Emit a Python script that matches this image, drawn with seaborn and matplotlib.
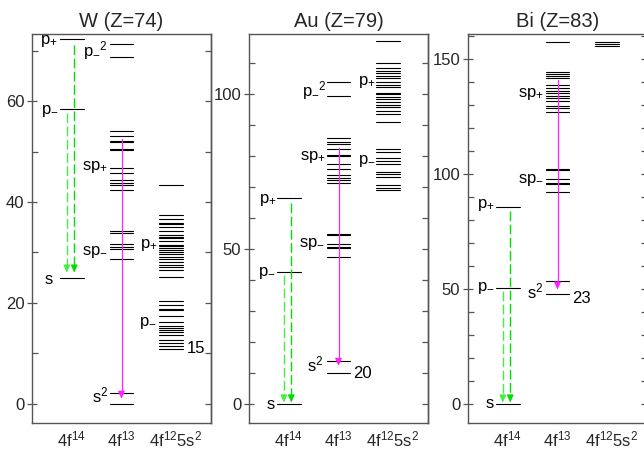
import numpy as np
import pandas as pd
import matplotlib
matplotlib.use("Agg")
import matplotlib.pyplot as plt
import seaborn as sns
from matplotlib.ticker import MultipleLocator

# ---------------- data ----------------
configs = ["4f$^{14}$", "4f$^{13}$", "4f$^{12}$5s$^{2}$"]
titles = ["W (Z=74)", "Au (Z=79)", "Bi (Z=83)"]

W_4f14 = [25.0, 58.5, 72.3]
W_4f13 = [0.0, 2.1, 28.8, 30.7, 31.1, 31.6, 33.9, 34.2, 42.4, 43.4, 43.8, 44.4,
          45.7, 46.7, 50.3, 50.6, 51.8, 52.0, 53.1, 54.1, 68.7, 71.3]
W_4f12 = [10.9, 11.4, 12.0, 12.7, 13.7, 14.3, 14.7, 15.0, 15.5, 16.3, 17.5, 18.5,
          18.7, 19.6, 20.4, 25.2, 26.5, 27.2, 27.5, 28.2, 28.8, 29.2, 29.6, 30.0,
          30.5, 30.8, 31.2, 31.5, 32.2, 32.8, 33.1, 33.4, 34.3, 35.1, 35.6, 35.9,
          36.6, 37.4, 43.4]

Au_4f14 = [0.0, 42.7, 66.4]
Au_4f13 = [10.1, 13.9, 47.3, 50.3, 50.8, 51.6, 54.5, 55.0, 71.4, 72.3, 73.0, 73.9,
           76.0, 77.3, 80.0, 80.5, 82.2, 83.8, 84.6, 85.7, 99.5, 103.8]
Au_4f12 = [69.0, 69.8, 70.7, 73.3, 74.1, 75.0, 77.3, 78.4, 79.5, 81.4, 82.2, 90.9,
           93.5, 94.5, 95.9, 96.6, 97.5, 98.4, 99.1, 99.9, 100.5, 102.2, 102.9,
           104.0, 105.1, 105.9, 106.7, 107.4, 108.3, 109.9, 117.1]

Bi_4f14 = [0.0, 50.6, 85.5]
Bi_4f13 = [47.8, 53.5, 92.0, 95.8, 96.2, 97.8, 101.6, 102.2, 127.1, 128.6, 129.6,
           131.9, 133.0, 134.0, 135.1, 136.2, 137.2, 138.7, 141.9, 142.7, 143.6,
           144.5, 157.5]
Bi_4f12 = [155.6, 156.4, 157.5]

# transitions: green (start energies of the two 4f14 arrows, end energy), magenta (start, end)
W_green = ([57.6, 71.1], 26.0)
Au_green = ([41.6, 64.8], 0.5)
Bi_green = ([49.1, 84.0], 0.6)
W_magenta = (52.5, 1.0)
Au_magenta = (82.7, 12.3)
Bi_magenta = (140.9, 49.7)

# level labels: (text, x, y, ha)
W_labels = [("p$_{+}$", 0.72, 72.0, "right"), ("p$_{-}$", 0.74, 58.0, "right"),
            ("s", 0.61, 24.6, "right"), ("p$_{-}{}^{2}$", 1.72, 70.0, "right"),
            ("sp$_{+}$", 1.73, 47.0, "right"), ("sp$_{-}$", 1.72, 30.0, "right"),
            ("s$^{2}$", 1.73, 1.6, "right"), ("p$_{+}$", 2.73, 31.5, "right"),
            ("p$_{-}$", 2.71, 16.0, "right"), ("15", 3.32, 11.0, "left")]
Au_labels = [("p$_{+}$", 0.76, 66.0, "right"), ("p$_{-}$", 0.74, 42.3, "right"),
             ("s", 0.72, 0.0, "right"), ("p$_{-}{}^{2}$", 1.76, 101.3, "right"),
             ("sp$_{+}$", 1.74, 79.7, "right"), ("sp$_{-}$", 1.73, 51.6, "right"),
             ("s$^{2}$", 1.69, 12.8, "right"), ("20", 2.30, 10.0, "left"),
             ("p$_{+}$", 2.75, 103.9, "right"), ("p$_{-}$", 2.75, 78.5, "right")]
Bi_labels = [("p$_{+}$", 0.74, 86.5, "right"), ("p$_{-}$", 0.74, 50.6, "right"),
             ("s", 0.72, 0.0, "right"), ("sp$_{+}$", 1.73, 135.0, "right"),
             ("sp$_{-}$", 1.73, 97.4, "right"), ("s$^{2}$", 1.71, 49.0, "right"),
             ("23", 2.30, 46.0, "left")]

panels = [
    dict(title=titles[0], levels=[W_4f14, W_4f13, W_4f12], green=W_green,
         magenta=W_magenta, labels=W_labels, ylim=(-3.8, 73.3), major=20),
    dict(title=titles[1], levels=[Au_4f14, Au_4f13, Au_4f12], green=Au_green,
         magenta=Au_magenta, labels=Au_labels, ylim=(-6.1, 119.4), major=50),
    dict(title=titles[2], levels=[Bi_4f14, Bi_4f13, Bi_4f12], green=Bi_green,
         magenta=Bi_magenta, labels=Bi_labels, ylim=(-8.3, 160.9), major=50),
]

# ---------------- style ----------------
sns.set_theme(style="white")
plt.rcParams["font.family"] = ["Liberation Sans", "DejaVu Sans"]
plt.rcParams["mathtext.fontset"] = "custom"
plt.rcParams["mathtext.rm"] = "Liberation Sans"
plt.rcParams["mathtext.it"] = "Liberation Sans:italic"
plt.rcParams["mathtext.bf"] = "Liberation Sans:bold"
plt.rcParams["mathtext.default"] = "regular"

SPINE = "#555555"
HALF_W = 0.24
GREEN_COLORS = ["#44ee44", "#00dd00"]
GREEN_X = [0.9, 1.05]
MAGENTA = "#ff22ff"

fig = plt.figure(figsize=(6.44, 4.51), dpi=100)
W_PX, H_PX = 644, 451
lefts = [32, 249, 468]
ax_w, top, bottom = 179, 34, 423


def draw_arrow(ax, x, y0, y1, color, dashed, ppu):
    hl = 6.0 / ppu
    direction = -1 if y1 < y0 else 1
    base = y1 - direction * hl
    if dashed:
        ax.plot([x, x], [y0, base], color=color, lw=1.0, dashes=(7, 2.5),
                solid_capstyle="butt")
    else:
        ax.plot([x, x], [y0, base], color=color, lw=0.9)
    ax.annotate("", xy=(x, y1), xytext=(x, base - direction * 0.001),
                arrowprops=dict(arrowstyle="-|>,head_length=0.45,head_width=0.2",
                                color=color, lw=0.8, mutation_scale=10,
                                shrinkA=0, shrinkB=0))


for p, left in zip(panels, lefts):
    ax = fig.add_axes([left / W_PX, 1 - bottom / H_PX, ax_w / W_PX, (bottom - top) / H_PX])
    rows = []
    seg = 0
    for ci, vals in enumerate(p["levels"]):
        xc = ci + 1
        for v in vals:
            rows.append((xc - HALF_W, v, seg))
            rows.append((xc + HALF_W, v, seg))
            seg += 1
    df = pd.DataFrame(rows, columns=["x", "y", "seg"])
    sns.lineplot(data=df, x="x", y="y", units="seg", estimator=None, sort=False,
                 color="black", lw=0.8, ax=ax, legend=False)

    ax.set_xlim(0.2, 3.8)
    ax.set_ylim(*p["ylim"])
    ppu = (bottom - top) / (p["ylim"][1] - p["ylim"][0])

    starts, end = p["green"]
    for gx, gs, gc in zip(GREEN_X, starts, GREEN_COLORS):
        draw_arrow(ax, gx, gs, end, gc, True, ppu)
    ms, me = p["magenta"]
    draw_arrow(ax, 2.0, ms, me, MAGENTA, False, ppu)

    for txt, tx, ty, ha in p["labels"]:
        ax.text(tx, ty, txt, ha=ha, va="center", fontsize=12, color="black")

    ax.set_title(p["title"], fontsize=14.5, pad=5)
    ax.set_xlabel("")
    ax.set_ylabel("")
    ax.set_xticks([1, 2, 3.08])
    ax.set_xticklabels(configs, fontsize=12)
    ax.tick_params(axis="x", length=0, pad=5, bottom=False)

    ax.yaxis.set_major_locator(MultipleLocator(p["major"]))
    ax.yaxis.set_minor_locator(MultipleLocator(10))
    ax.tick_params(axis="y", which="major", direction="inout", length=7, width=0.9,
                   color=SPINE, labelsize=12, pad=2, left=True, right=False)
    ax.tick_params(axis="y", which="minor", direction="in", length=4, width=0.9,
                   color=SPINE, left=True, right=False)
    for sp in ax.spines.values():
        sp.set_visible(True)
        sp.set_color(SPINE)
        sp.set_linewidth(1.0)

    sec = ax.secondary_yaxis("right")
    sec.yaxis.set_major_locator(MultipleLocator(10))
    sec.tick_params(axis="y", direction="in", length=4, width=0.9, color=SPINE,
                    labelright=False)
    sec.spines["right"].set_color(SPINE)
    sec.spines["right"].set_linewidth(1.0)
    ax.grid(False)

fig.savefig("out.png", dpi=100)
